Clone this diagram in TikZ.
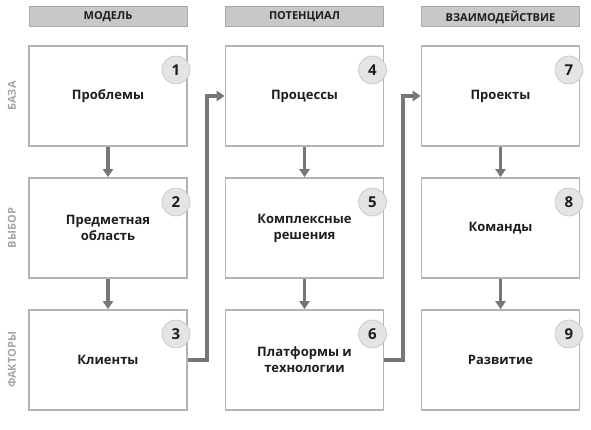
\documentclass[tikz,border=0pt]{standalone}
\usepackage{fontspec}
\setmainfont{Open Sans}
\usetikzlibrary{arrows.meta,positioning}
\definecolor{boxline}{HTML}{B4B4B4}
\definecolor{headfill}{HTML}{C8C8C8}
\definecolor{headline}{HTML}{A8A8A8}
\definecolor{arrowgray}{HTML}{777777}
\definecolor{sidegray}{HTML}{A6A6A6}
\definecolor{numfill}{HTML}{E4E4E4}
\definecolor{txt}{HTML}{1E1E1E}
\tikzset{
  stepbox/.style={draw=boxline, line width=1.6pt, fill=white, minimum width=158pt, minimum height=100pt, inner sep=0pt, align=center, font=\bfseries\fontsize{13}{16}\selectfont, text=txt},
  headbox/.style={draw=headline, line width=1pt, fill=headfill, minimum width=158pt, minimum height=20pt, inner sep=0pt, font=\bfseries\fontsize{11}{13}\selectfont, text=txt},
  numcirc/.style={circle, draw=numfill!85!black, line width=0.6pt, fill=numfill, minimum size=28pt, inner sep=0pt, font=\bfseries\fontsize{15}{17}\selectfont, text=txt},
  sidelab/.style={rotate=90, font=\bfseries\fontsize{11}{13}\selectfont, text=sidegray},
  flow/.style={draw=arrowgray, line width=3.2pt, -{Triangle[width=10pt,length=8pt]}, shorten >=0pt},
}
\begin{document}
\begin{tikzpicture}[x=1pt,y=-1pt]
\useasboundingbox (0,0) rectangle (591,430);
% headers
\node[headbox] (h1) at (108,17) {МОДЕЛЬ};
\node[headbox] (h2) at (304.5,17) {ПОТЕНЦИАЛ};
\node[headbox] (h3) at (500.5,17) {ВЗАИМОДЕЙСТВИЕ};
% side labels
\node[sidelab] (s1) at (12,96) {БАЗА};
\node[sidelab] (s2) at (12,228) {ВЫБОР};
\node[sidelab] (s3) at (12,360) {ФАКТОРЫ};
% boxes
\node[stepbox] (b1) at (108,96) {Проблемы};
\node[stepbox] (b2) at (108,228) {Предметная\\область};
\node[stepbox] (b3) at (108,360) {Клиенты};
\node[stepbox] (b4) at (304.5,96) {Процессы};
\node[stepbox] (b5) at (304.5,228) {Комплексные\\решения};
\node[stepbox] (b6) at (304.5,360) {Платформы и\\технологии};
\node[stepbox] (b7) at (500.5,96) {Проекты};
\node[stepbox] (b8) at (500.5,228) {Команды};
\node[stepbox] (b9) at (500.5,360) {Развитие};
% numbers
\node[numcirc] (n1) at (176,70) {1};
\node[numcirc] (n2) at (176,202) {2};
\node[numcirc] (n3) at (176,334) {3};
\node[numcirc] (n4) at (372.5,70) {4};
\node[numcirc] (n5) at (372.5,202) {5};
\node[numcirc] (n6) at (372.5,334) {6};
\node[numcirc] (n7) at (569,70) {7};
\node[numcirc] (n8) at (569,202) {8};
\node[numcirc] (n9) at (569,334) {9};
% vertical arrows
\draw[flow] (b1.south) -- (b2.north);
\draw[flow] (b2.south) -- (b3.north);
\draw[flow] (b4.south) -- (b5.north);
\draw[flow] (b5.south) -- (b6.north);
\draw[flow] (b7.south) -- (b8.north);
\draw[flow] (b8.south) -- (b9.north);
% cross arrows
\coordinate (c1) at (207,0);
\coordinate (c2) at (403,0);
\draw[flow] (b3.east) -- (b3.east -| c1) -- (b4.west -| c1) -- (b4.west);
\draw[flow] (b6.east) -- (b6.east -| c2) -- (b7.west -| c2) -- (b7.west);
\end{tikzpicture}
\end{document}
